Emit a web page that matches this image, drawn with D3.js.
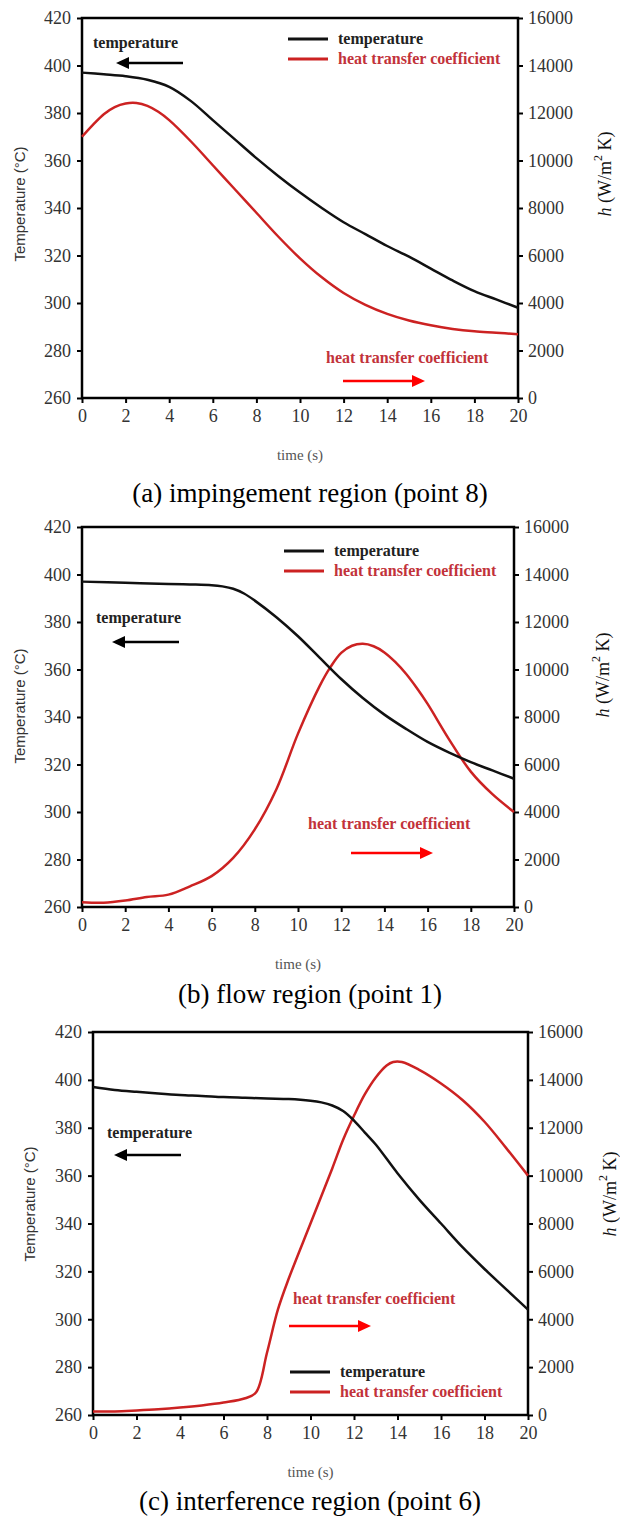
<!DOCTYPE html>
<html>
<head>
<meta charset="utf-8">
<script src="https://cdn.jsdelivr.net/npm/d3@7"></script>
<style>
  body { margin: 0; background: #fff; }
  svg { display: block; }
  .tick text { font-family: "Liberation Serif", "Times New Roman", serif; font-size: 18px; fill: #333; }
  .tick line { stroke: #000; stroke-width: 2; }
</style>
</head>
<body>
<div id="viz"></div>
<script>
// tick labels
var timeTicks = [0, 2, 4, 6, 8, 10, 12, 14, 16, 18, 20];
var tempTicks = [260, 280, 300, 320, 340, 360, 380, 400, 420];
var htcTicks = [0, 2000, 4000, 6000, 8000, 10000, 12000, 14000, 16000];

// (a) impingement region - [time, value]
var tempA = [[0,397],[1,396.3],[2,395.5],[3,394],[4,391],[5,385],[6,377],[7,369],[8,361],[9,353.5],[10,346.5],
  [11,340],[12,334],[13,329],[14,324],[15,319.5],[16,314.5],[17,309.5],[18,305],[19,301.5],[20,298]];
var htcA = [[0,11000],[0.5,11500],[1,11950],[1.5,12250],[2,12400],[2.5,12420],[3,12300],[3.5,12050],[4,11700],
  [5,10800],[6,9800],[7,8800],[8,7800],[9,6800],[10,5880],[11,5080],[12,4420],[13,3920],[14,3540],[15,3260],
  [16,3060],[17,2910],[18,2810],[19,2750],[20,2680]];

// (b) flow region
var tempB = [[0,397],[2,396.5],[4,396],[5,395.8],[6,395.5],[6.5,395],[7,394],[7.5,392],[8,389],[9,382],[10,374],
  [11,365],[12,356],[13,348],[14,341],[15,335],[16,329.5],[17,325],[18,321],[19,317.5],[20,314]];
var htcB = [[0,200],[1,180],[2,270],[3,420],[4,520],[5,870],[6,1300],[7,2070],[8,3270],[9,4960],[10,7300],
  [11,9300],[11.5,10100],[12,10700],[12.5,11000],[13,11080],[13.5,10980],[14,10720],[14.5,10320],[15,9820],
  [15.5,9220],[16,8550],[17,7050],[18,5700],[19,4750],[20,4000]];

// (c) interference region
var tempC = [[0,397],[1,395.8],[2,395],[3,394.3],[4,393.7],[5,393.3],[6,392.8],[7,392.5],[8,392.2],[9,392],
  [10,391.3],[10.5,390.6],[11,389.3],[11.5,387],[12,383],[12.5,378],[13,373],[14,361],[15,350],[16,340],
  [17,330],[18,321],[19,312.5],[20,304]];
var htcC = [[0,150],[1,150],[2,190],[3,240],[4,310],[5,400],[6,520],[7,700],[7.5,950],[8,2600],[8.5,4400],
  [9,5700],[10,8000],[11,10300],[11.5,11500],[12,12500],[12.5,13400],[13,14100],[13.5,14600],[13.8,14750],
  [14.2,14750],[15,14420],[16,13850],[17,13150],[18,12250],[19,11150],[20,10000]];

var captions = ["(a) impingement region (point 8)", "(b) flow region (point 1)", "(c) interference region (point 6)"];

var RED = "#cc2222", REDTXT = "#c2323a";

var svg = d3.select("#viz").append("svg")
    .attr("width", 620)
    .attr("height", 1518);

// panel layouts (pixels)
var panels = [
  {temp: tempA, htc: htcA, cap: captions[0], l: 82, r: 518, t: 18, b: 398, capY: 502,
   lab: {lx: 19, ly: 204, rx: 605, ry: 174},
   leg: {x: 288, y: 39}, tAnn: {x: 93, y: 43, ay: 63, ax1: 183, ax2: 116},
   hAnn: {x: 326, y: 358, ay: 381, ax1: 343, ax2: 425}},
  {temp: tempB, htc: htcB, cap: captions[1], l: 82, r: 514, t: 527, b: 907, capY: 1003,
   lab: {lx: 19, ly: 706, rx: 603, ry: 675},
   leg: {x: 284, y: 551}, tAnn: {x: 96, y: 618, ay: 642, ax1: 179, ax2: 112},
   hAnn: {x: 308, y: 824, ay: 853, ax1: 351, ax2: 433}},
  {temp: tempC, htc: htcC, cap: captions[2], l: 93, r: 528, t: 1032, b: 1415, capY: 1510,
   lab: {lx: 29, ly: 1204, rx: 610, ry: 1194},
   leg: {x: 290, y: 1372}, tAnn: {x: 107, y: 1133, ay: 1155, ax1: 181, ax2: 114},
   hAnn: {x: 293, y: 1299, ay: 1326, ax1: 289, ax2: 371}}
];

function arrow(g, x1, x2, y, col) {
  var dir = x2 > x1 ? 1 : -1;
  g.append("line")
    .attr("x1", x1).attr("y1", y)
    .attr("x2", x2 - dir * 10).attr("y2", y)
    .attr("stroke", col).attr("stroke-width", 2.5);
  g.append("path")
    .attr("d", "M" + x2 + "," + y + "L" + (x2 - dir * 13) + "," + (y - 6) + "L" + (x2 - dir * 13) + "," + (y + 6) + "Z")
    .attr("fill", col);
}

panels.forEach(function (p) {
  var g = svg.append("g");
  var x = d3.scaleLinear().domain([0, 20]).range([p.l, p.r]);
  var yT = d3.scaleLinear().domain([260, 420]).range([p.b, p.t]);
  var yH = d3.scaleLinear().domain([0, 16000]).range([p.b, p.t]);

  g.append("g").attr("transform", "translate(0," + p.b + ")")
    .call(d3.axisBottom(x).tickValues(timeTicks).tickSize(5).tickPadding(6))
    .call(function (s) { s.select(".domain").remove(); });
  g.append("g").attr("transform", "translate(" + p.l + ",0)")
    .call(d3.axisLeft(yT).tickValues(tempTicks).tickSize(5).tickPadding(6))
    .call(function (s) { s.select(".domain").remove(); });
  g.append("g").attr("transform", "translate(" + p.r + ",0)")
    .call(d3.axisRight(yH).tickValues(htcTicks).tickSize(5).tickPadding(5).tickFormat(d3.format("d")))
    .call(function (s) { s.select(".domain").remove(); });

  g.append("rect")
    .attr("x", p.l).attr("y", p.t)
    .attr("width", p.r - p.l).attr("height", p.b - p.t)
    .attr("fill", "none").attr("stroke", "#000").attr("stroke-width", 2.5);

  var lineT = d3.line().x(function (d) { return x(d[0]); }).y(function (d) { return yT(d[1]); }).curve(d3.curveCatmullRom.alpha(0.5));
  var lineH = d3.line().x(function (d) { return x(d[0]); }).y(function (d) { return yH(d[1]); }).curve(d3.curveCatmullRom.alpha(0.5));

  g.append("path").datum(p.htc).attr("d", lineH)
    .attr("fill", "none").attr("stroke", RED).attr("stroke-width", 2.5);
  g.append("path").datum(p.temp).attr("d", lineT)
    .attr("fill", "none").attr("stroke", "#111").attr("stroke-width", 2.5);

  // legend
  var lg = g.append("g").attr("font-family", "Liberation Serif, serif").attr("font-weight", "bold").attr("font-size", 16);
  lg.append("line").attr("x1", p.leg.x).attr("x2", p.leg.x + 40).attr("y1", p.leg.y).attr("y2", p.leg.y)
    .attr("stroke", "#111").attr("stroke-width", 3);
  lg.append("line").attr("x1", p.leg.x).attr("x2", p.leg.x + 40).attr("y1", p.leg.y + 20).attr("y2", p.leg.y + 20)
    .attr("stroke", RED).attr("stroke-width", 3);
  lg.append("text").attr("x", p.leg.x + 50).attr("y", p.leg.y + 5).attr("fill", "#222").text("temperature");
  lg.append("text").attr("x", p.leg.x + 50).attr("y", p.leg.y + 25).attr("fill", REDTXT).text("heat transfer coefficient");

  // annotations
  lg.append("text").attr("x", p.tAnn.x).attr("y", p.tAnn.y + 5).attr("fill", "#222").text("temperature");
  arrow(g, p.tAnn.ax1, p.tAnn.ax2, p.tAnn.ay, "#000");
  lg.append("text").attr("x", p.hAnn.x).attr("y", p.hAnn.y + 5).attr("fill", REDTXT).text("heat transfer coefficient");
  arrow(g, p.hAnn.ax1, p.hAnn.ax2, p.hAnn.ay, "#ff0000");

  // axis titles
  g.append("text")
    .attr("transform", "translate(" + p.lab.lx + "," + p.lab.ly + ") rotate(-90)")
    .attr("text-anchor", "middle").attr("dominant-baseline", "central")
    .attr("font-family", "Liberation Sans, Arial, sans-serif").attr("font-size", 15).attr("fill", "#333")
    .text("Temperature (\u00B0C)");
  var rt = g.append("text")
    .attr("transform", "translate(" + p.lab.rx + "," + p.lab.ry + ") rotate(-90)")
    .attr("text-anchor", "middle").attr("dominant-baseline", "central")
    .attr("font-family", "Liberation Serif, serif").attr("font-size", 18).attr("fill", "#111");
  rt.append("tspan").attr("font-style", "italic").text("h");
  rt.append("tspan").text(" (W/m");
  rt.append("tspan").attr("font-size", 12).attr("dy", -7).text("2");
  rt.append("tspan").attr("dy", 7).text(" K)");

  g.append("text")
    .attr("x", (p.l + p.r) / 2).attr("y", p.b + 62)
    .attr("text-anchor", "middle")
    .attr("font-family", "Liberation Serif, serif").attr("font-size", 15).attr("fill", "#555")
    .text("time (s)");

  g.append("text")
    .attr("x", 310).attr("y", p.capY)
    .attr("text-anchor", "middle")
    .attr("font-family", "Liberation Serif, serif").attr("font-size", 27).attr("fill", "#000")
    .text(p.cap);
});
</script>
</body>
</html>
